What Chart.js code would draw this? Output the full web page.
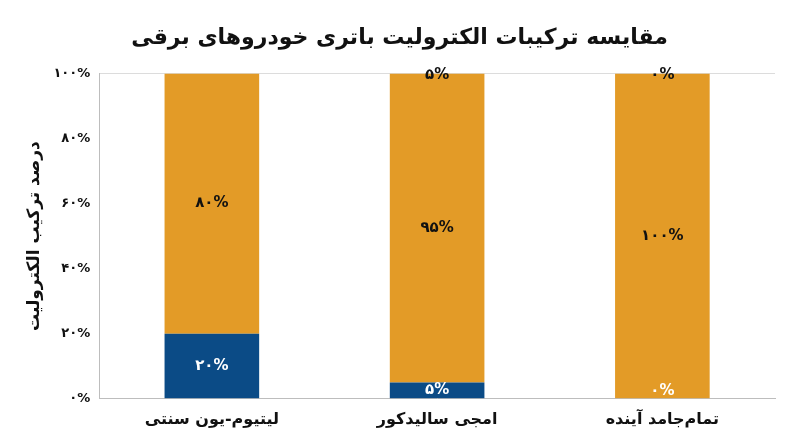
<!DOCTYPE html>
<html><head><meta charset="utf-8">
<script src="https://cdn.jsdelivr.net/npm/chart.js@4"></script>
<style>html,body{margin:0;padding:0;background:#fff}#wrap{width:800px;height:447px}</style>
</head><body><div id="wrap"><canvas id="c"></canvas></div>
<script>
const categories = ['لیتیوم-یون سنتی', 'امجی سالیدکور', 'تمام‌جامد آینده'];
const bottomValues = [20, 5, 0];
const middleValues = [80, 95, 100];
const topValues = [null, 5, 0];
const bottomLabels = ['۲۰%', '۵%', '۰%'];
const middleLabels = ['۸۰%', '۹۵%', '۱۰۰%'];
const topLabels = ['', '۵%', '۰%'];
const tickLabels = {0:'۰%',20:'۲۰%',40:'۴۰%',60:'۶۰%',80:'۸۰%',100:'۱۰۰%'};
const titleText = 'مقایسه ترکیبات الکترولیت باتری خودروهای برقی';
const yTitle = 'درصد ترکیب الکترولیت';

const FONT = "'DejaVu Sans', 'Noto Sans', sans-serif";
const labelSets = [bottomLabels, middleLabels, topLabels];
const labelColors = ['#ffffff', '#111111', '#111111'];

const barLabels = {
  id: 'barLabels',
  afterDatasetsDraw(chart) {
    const ctx = chart.ctx, area = chart.chartArea;
    ctx.save();
    ctx.font = 'bold 15px ' + FONT;
    ctx.textAlign = 'center';
    ctx.textBaseline = 'middle';
    chart.data.datasets.forEach((ds, di) => {
      const meta = chart.getDatasetMeta(di);
      meta.data.forEach((el, i) => {
        if (ds.data[i] === null) return;
        const txt = labelSets[di][i];
        if (!txt) return;
        let y = (el.y + el.base) / 2;
        y = Math.max(area.top + 2, Math.min(area.bottom - 8, y));
        ctx.fillStyle = labelColors[di];
        ctx.fillText(txt, el.x, y);
      });
    });
    ctx.restore();
  }
};

new Chart(document.getElementById('c'), {
  type: 'bar',
  data: {
    labels: categories,
    datasets: [
      { label: 'بخش پایینی', data: bottomValues, backgroundColor: '#0B4B86' },
      { label: 'بخش میانی', data: middleValues, backgroundColor: '#E39B27' },
      { label: 'بخش بالایی', data: topValues, backgroundColor: 'rgba(0,0,0,0)' }
    ]
  },
  options: {
    responsive: true,
    maintainAspectRatio: false,
    animation: false,
    layout: { padding: { left: 24, right: 25, top: 6, bottom: 15 } },
    datasets: { bar: { categoryPercentage: 1, barPercentage: 0.42 } },
    plugins: {
      legend: { display: false },
      tooltip: { enabled: false },
      title: {
        display: true, text: titleText, color: '#111',
        font: { family: FONT, size: 22, weight: 'bold' },
        padding: { top: 19, bottom: 22 }
      }
    },
    scales: {
      x: {
        stacked: true,
        grid: { display: false },
        border: { color: '#bdbdbd', width: 1 },
        ticks: { color: '#111', font: { family: FONT, size: 16, weight: 'bold' }, padding: 3 }
      },
      y: {
        stacked: true, min: 0, max: 100,
        grid: { color: ctx => ctx.tick && ctx.tick.value === 100 ? '#dcdcdc' : 'rgba(0,0,0,0)', drawTicks: false },
        border: { color: '#bdbdbd', width: 1 },
        ticks: {
          stepSize: 20, padding: 9, color: '#111',
          font: { family: FONT, size: 13, weight: 'bold' },
          callback: v => tickLabels[v]
        },
        title: {
          display: true, text: yTitle, color: '#111',
          font: { family: FONT, size: 17, weight: 'bold' }, padding: { top: 0, bottom: 0 }
        }
      }
    }
  },
  plugins: [barLabels]
});
</script></body></html>
